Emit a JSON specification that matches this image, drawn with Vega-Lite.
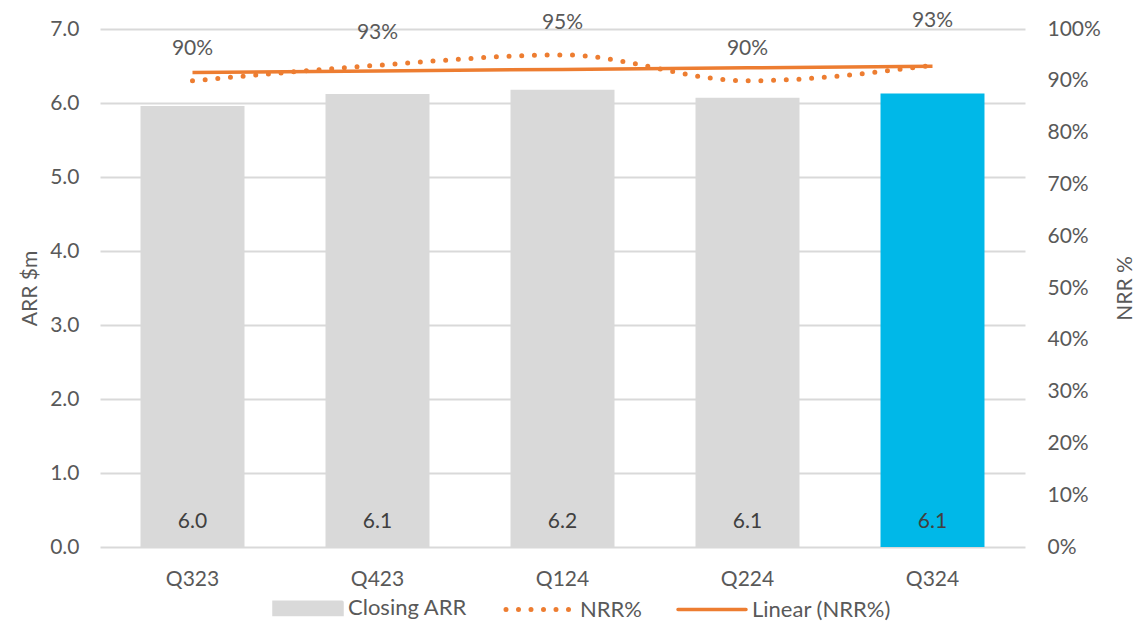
{
  "$schema": "https://vega.github.io/schema/vega-lite/v6.json",
  "width": 925,
  "height": 518,
  "autosize": "none",
  "padding": {"left": 100, "top": 29, "right": 112, "bottom": 76},
  "config": {
    "font": "Lato",
    "view": {"stroke": null},
    "axis": {"labelFont": "Lato", "titleFont": "Lato", "labelFontSize": 21, "labelColor": "#595959", "titleFontSize": 21, "titleColor": "#595959", "titleFontWeight": "normal", "domain": false, "ticks": false},
    "legend": {"labelFont": "Lato"}
  },
  "data": {
    "values": [
      {"quarter": "Q323", "arr": 5.96, "nrr": 0.90, "trend": 0.916},
      {"quarter": "Q423", "arr": 6.12, "nrr": 0.93, "trend": 0.919},
      {"quarter": "Q124", "arr": 6.18, "nrr": 0.95, "trend": 0.922},
      {"quarter": "Q224", "arr": 6.07, "nrr": 0.90, "trend": 0.925},
      {"quarter": "Q324", "arr": 6.13, "nrr": 0.93, "trend": 0.928}
    ]
  },
  "encoding": {
    "x": {
      "field": "quarter",
      "type": "nominal",
      "sort": null,
      "scale": {"paddingInner": 0.438, "paddingOuter": 0.219},
      "axis": {"title": null, "labelAngle": 0, "labelPadding": 21, "grid": false}
    }
  },
  "layer": [
    {
      "layer": [
        {
          "mark": {"type": "bar"},
          "encoding": {
            "y": {
              "field": "arr",
              "type": "quantitative",
              "title": "ARR $m",
              "scale": {"domain": [0, 7], "nice": false},
              "axis": {"values": [0, 1, 2, 3, 4, 5, 6, 7], "format": ".1f", "labelPadding": 21, "grid": true, "gridColor": "#d9d9d9", "gridWidth": 1.8, "titleX": -70, "titleY": 259, "titleAngle": 270, "titleAlign": "center", "titleBaseline": "middle"}
            },
            "color": {
              "condition": {"test": "datum.quarter === 'Q324'", "value": "#00b8e8"},
              "datum": "Closing ARR",
              "type": "nominal",
              "scale": {"domain": ["Closing ARR", "NRR%", "Linear (NRR%)"], "range": ["#d9d9d9", "#ed7d31", "#ed7d31"]},
              "legend": {
                "orient": "none",
                "direction": "horizontal",
                "legendX": 197,
                "legendY": 568,
                "title": null,
                "labelFontSize": 22,
                "labelColor": "#595959",
                "labelOffset": 29,
                "columnPadding": 29,
                "symbolSize": 4624,
                "symbolType": "stroke",
                "encode": {
                  "symbols": {
                    "update": {
                      "shape": {"signal": "datum.value === 'Closing ARR' ? 'M-1,-0.18H1V0.18H-1Z' : 'stroke'"},
                      "fill": {"signal": "datum.value === 'Closing ARR' ? '#d9d9d9' : 'transparent'"},
                      "stroke": {"signal": "datum.value === 'Closing ARR' ? 'transparent' : '#ed7d31'"},
                      "strokeDash": {"signal": "datum.value === 'NRR%' ? [0, 12.5] : [1, 0]"},
                      "strokeCap": {"value": "round"},
                      "strokeWidth": {"signal": "datum.value === 'NRR%' ? 5 : 3.5"},
                      "size": {"value": 4624},
                      "opacity": {"value": 1}
                    }
                  }
                }
              }
            }
          }
        },
        {
          "mark": {"type": "text", "dy": -25, "fontSize": 21, "color": "#404040", "baseline": "middle"},
          "encoding": {
            "y": {"datum": 0, "type": "quantitative"},
            "text": {"field": "arr", "type": "quantitative", "format": ".1f"}
          }
        }
      ]
    },
    {
      "layer": [
        {
          "mark": {"type": "line", "interpolate": "monotone", "strokeDash": [0, 12.7], "strokeCap": "round", "strokeWidth": 5},
          "encoding": {
            "y": {
              "field": "nrr",
              "type": "quantitative",
              "title": "NRR %",
              "scale": {"domain": [0, 1], "nice": false},
              "axis": {"orient": "right", "values": [0, 0.1, 0.2, 0.3, 0.4, 0.5, 0.6, 0.7, 0.8, 0.9, 1], "format": ".0%", "labelPadding": 22, "grid": false, "titleX": 100, "titleY": 259, "titleAngle": 270, "titleAlign": "center", "titleBaseline": "middle"}
            },
            "color": {"datum": "NRR%", "type": "nominal"}
          }
        },
        {
          "mark": {"type": "line", "strokeWidth": 3.5},
          "encoding": {
            "y": {"field": "trend", "type": "quantitative", "title": "NRR %"},
            "color": {"datum": "Linear (NRR%)", "type": "nominal"}
          }
        },
        {
          "transform": [{"filter": "datum.quarter !== 'Q324'"}],
          "mark": {"type": "text", "dy": -32, "fontSize": 21, "color": "#595959", "baseline": "middle"},
          "encoding": {
            "y": {"field": "nrr", "type": "quantitative", "title": "NRR %"},
            "text": {"field": "nrr", "type": "quantitative", "format": ".0%"}
          }
        },
        {
          "transform": [{"filter": "datum.quarter === 'Q324'"}],
          "mark": {"type": "text", "dy": -44, "fontSize": 21, "color": "#595959", "baseline": "middle"},
          "encoding": {
            "y": {"field": "nrr", "type": "quantitative", "title": "NRR %"},
            "text": {"field": "nrr", "type": "quantitative", "format": ".0%"}
          }
        }
      ]
    }
  ],
  "resolve": {"scale": {"y": "independent"}}
}
